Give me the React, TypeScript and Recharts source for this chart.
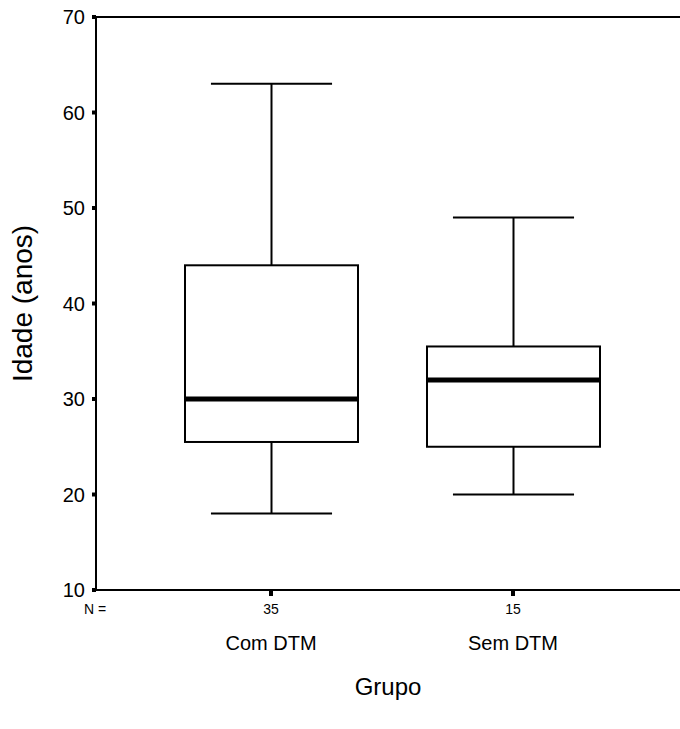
import { ComposedChart, Bar, XAxis, YAxis, ReferenceLine } from "recharts";

// grupos e estatísticas (idade em anos)
const groups = ["Com DTM", "Sem DTM"];
const counts = [35, 15];
const whiskerLow = [18, 20];
const q1 = [25.5, 25];
const median = [30, 32];
const q3 = [44, 35.5];
const whiskerHigh = [63, 49];
const yTicks = [10, 20, 30, 40, 50, 60, 70];

const data = groups.map((name, i) => ({
  name,
  n: counts[i],
  range: [whiskerLow[i], whiskerHigh[i]],
  q1: q1[i],
  median: median[i],
  q3: q3[i],
}));

const FONT = "'Liberation Sans', Arial, sans-serif";

const BoxShape = (props: any) => {
  const { x, y, width, height, payload } = props;
  const [lo, hi] = payload.range;
  const k = height / (hi - lo);
  const py = (v: number) => y + (hi - v) * k;
  const cx = x + width / 2;
  const capW = width * 0.7;
  const yQ1 = py(payload.q1);
  const yQ3 = py(payload.q3);
  const yMed = py(payload.median);
  return (
    <g stroke="#000" fill="none">
      <line x1={cx} x2={cx} y1={y} y2={yQ3} strokeWidth={2} />
      <line x1={cx} x2={cx} y1={yQ1} y2={y + height} strokeWidth={2} />
      <line x1={cx - capW / 2} x2={cx + capW / 2} y1={y} y2={y} strokeWidth={2} />
      <line x1={cx - capW / 2} x2={cx + capW / 2} y1={y + height} y2={y + height} strokeWidth={2} />
      <rect x={x} y={yQ3} width={width} height={yQ1 - yQ3} fill="#fff" strokeWidth={2} />
      <line x1={x} x2={x + width} y1={yMed} y2={yMed} strokeWidth={5} />
    </g>
  );
};

const GroupTick = (props: any) => {
  const { x, payload, index } = props;
  const row = data[index] || data.find((d) => d.name === payload.value);
  return (
    <g fontFamily={FONT} fill="#000">
      {index === 0 && (
        <text x={95} y={614} textAnchor="middle" fontSize={14}>
          N =
        </text>
      )}
      <text x={x} y={614} textAnchor="middle" fontSize={14}>
        {row ? row.n : ""}
      </text>
      <text x={x} y={650} textAnchor="middle" fontSize={20}>
        {payload.value}
      </text>
    </g>
  );
};

const YLabel = (props: any) => {
  const { viewBox } = props;
  const cy = viewBox.y + viewBox.height / 2;
  return (
    <text
      x={32}
      y={cy}
      transform={`rotate(-90, 32, ${cy})`}
      textAnchor="middle"
      fontFamily={FONT}
      fontSize={28}
      fill="#000"
    >
      Idade (anos)
    </text>
  );
};

export default function App() {
  return (
    <div style={{ position: "absolute", left: 0, top: 0, background: "#fff" }}>
      <ComposedChart
        width={680}
        height={729}
        data={data}
        margin={{ top: 17, right: 0, left: 0, bottom: 0 }}
      >
        <XAxis
          dataKey="name"
          height={139}
          padding={{ left: 54, right: 46 }}
          axisLine={{ stroke: "#000", strokeWidth: 2 }}
          tickLine={{ stroke: "#000", strokeWidth: 4 }}
          tickSize={6}
          tick={<GroupTick />}
          interval={0}
          label={{
            value: "Grupo",
            position: "insideBottom",
            offset: 34,
            fontSize: 24,
            fontFamily: FONT,
            fill: "#000",
          }}
        />
        <YAxis
          width={96}
          domain={[10, 70]}
          ticks={yTicks}
          interval={0}
          allowDataOverflow
          axisLine={{ stroke: "#000", strokeWidth: 2 }}
          tickLine={{ stroke: "#000", strokeWidth: 4 }}
          tickSize={4}
          tickMargin={7}
          tick={{ fontSize: 20, fontFamily: FONT, fill: "#000" }}
          label={<YLabel />}
        />
        <ReferenceLine y={70} stroke="#000" strokeWidth={2} ifOverflow="visible" />
        <Bar
          dataKey="range"
          barSize={173}
          shape={<BoxShape />}
          isAnimationActive={false}
        />
      </ComposedChart>
    </div>
  );
}
